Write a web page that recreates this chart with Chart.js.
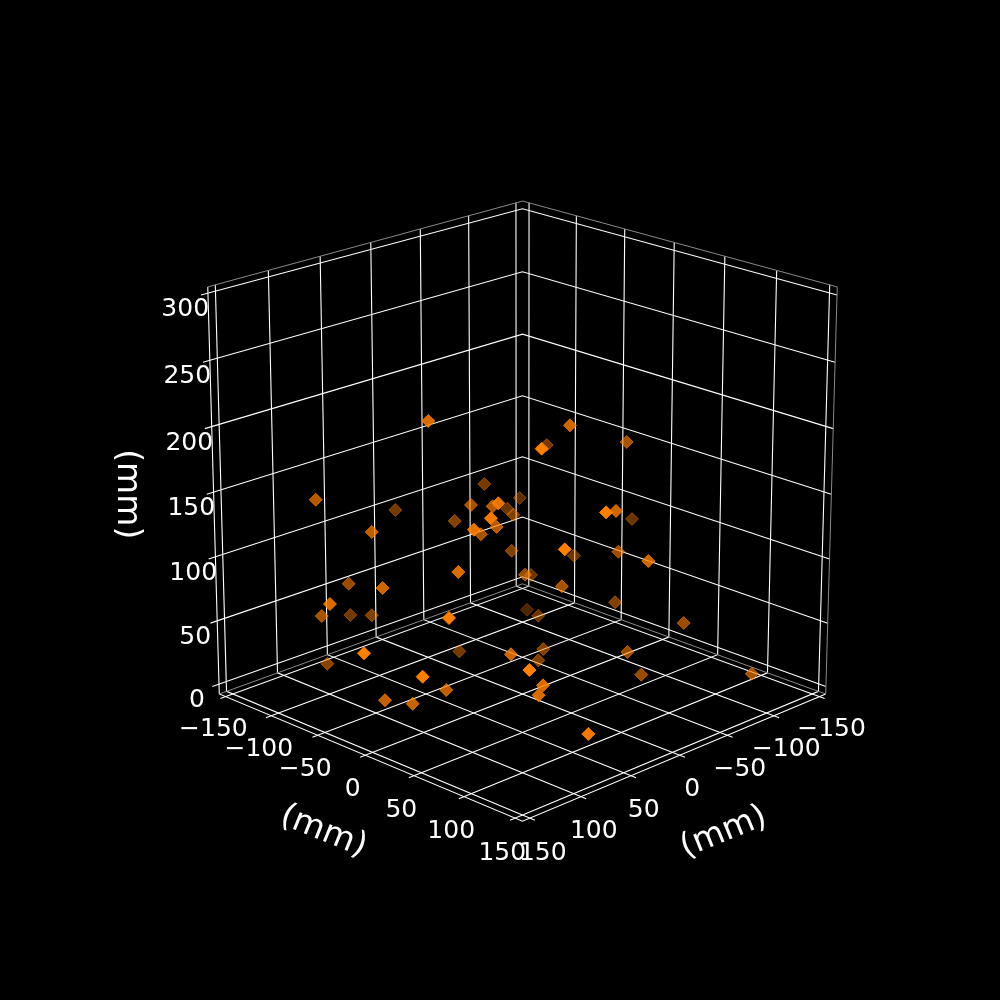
<!DOCTYPE html>
<html>
<head>
<meta charset="utf-8">
<title>3D scatter</title>
<script src="https://cdn.jsdelivr.net/npm/chart.js@4"></script>
<style>
    html, body { margin: 0; background: #000; }
    #box { width: 1000px; height: 1000px; }
</style>
</head>
<body>
<div id="box"><canvas id="myChart" width="1000" height="1000"></canvas></div>
<script>
const xTicks = [-150, -100, -50, 0, 50, 100, 150];
const yTicks = [-150, -100, -50, 0, 50, 100, 150];
const zTicks = [0, 50, 100, 150, 200, 250, 300];
const xLim = [-157, 157];
const yLim = [-157, 157];
const zLim = [-6, 306];
const unitLabel = "(mm)";

// point positions in mm
const xs = [90.9, 115.7, 21.8, 98.2, 78.5, 103.8, 141.0, 103.2, 46.1, 45.5,
    114.0, 76.5, -24.6, 26.2, 1.8, 26.2, 67.5, -43.2, -28.6, -58.5,
    82.2, 24.2, 79.6, 21.2, -27.7, -12.4, -55.6, -80.2, -59.5, 9.8,
    68.5, -57.0, -52.7, 37.0, -13.4, -108.4, 57.1, -78.1, -60.4, -29.9,
    -20.2, -81.7, -94.5, 156.2, 75.9, -11.1, 39.2, -44.2, -40.2, 74.4,
    127.3, 61.2, 92.8, 82.8, 34.1, 36.3, -65.5, -72.9, -118.5, 33.7];
const ys = [-2.0, -93.4, -110.7, -53.8, -100.7, -37.1, -52.1, -103.2, -135.0, -112.2,
    41.5, 12.3, -64.3, -26.2, -68.5, -4.0, 43.6, -59.1, -38.1, -61.5,
    51.2, -2.0, 31.5, -21.2, -39.0, -9.8, -46.6, -75.4, -42.8, 56.9,
    87.1, -31.9, 52.7, 118.6, 80.1, 6.2, 98.5, -24.1, 38.1, 96.5,
    20.2, 15.0, 72.3, -0.6, -128.4, -77.8, 27.5, -22.4, -23.6, 81.2,
    28.3, -16.8, -48.0, -29.4, 54.8, 52.6, 43.3, 50.6, 118.5, 99.7];
const zs = [227.4, 151.6, 114.7, 132.8, 74.7, 96.0, 89.9, 55.6, 31.3, 37.3,
    98.1, 114.3, 135.1, 141.8, 111.9, 146.5, 171.9, 112.2, 116.8, 116.1,
    166.6, 130.7, 152.2, 119.2, 88.5, 81.8, 59.6, 16.7, 26.9, 218.8,
    223.5, 165.5, 189.9, 176.8, 154.6, 104.1, 149.4, 75.0, 99.7, 116.6,
    78.8, 47.7, 43.8, 71.5, 2.7, 2.0, 44.9, 10.3, 2.1, 58.8,
    53.7, 10.4, 2.5, 2.3, 27.3, 19.6, 20.8, 2.8, 10.1, 3.1];

// view of the box, elevation 20, azimuth 45
const elev = 20 * Math.PI / 180;
const dist = 10;
const halfXY = 0.55;
const halfZ = 0.5453;
const viewScale = 3971;
const viewX = 522.5;
const viewY = 494.25;

function project(x, y, z) {
    const nx = (x - (xLim[0] + xLim[1]) / 2) / (xLim[1] - xLim[0]) * 2 * halfXY;
    const ny = (y - (yLim[0] + yLim[1]) / 2) / (yLim[1] - yLim[0]) * 2 * halfXY;
    const nz = (z - (zLim[0] + zLim[1]) / 2) / (zLim[1] - zLim[0]) * 2 * halfZ;
    const u = (ny - nx) * Math.SQRT1_2;
    const rad = (nx + ny) * Math.SQRT1_2;
    const yv = nz * Math.cos(elev) - rad * Math.sin(elev);
    const d = rad * Math.cos(elev) + nz * Math.sin(elev);
    return { x: viewX + viewScale * u / (dist - d), y: viewY - viewScale * yv / (dist - d) };
}

function polyline(points, color, width) {
    return {
        type: "line",
        data: points.map(p => project(p[0], p[1], p[2])),
        borderColor: color,
        borderWidth: width,
        pointRadius: 0,
        tension: 0,
        order: 5
    };
}

const datasets = [];
const [x0, x1] = xLim, [y0, y1] = yLim, [z0, z1] = zLim;
const edgeGray = "#8a8a8a";
datasets.push(polyline([[x1, y0, z1], [x0, y0, z1], [x0, y1, z1]], edgeGray, 1));
datasets.push(polyline([[x1, y0, z0], [x0, y0, z0], [x0, y1, z0]], edgeGray, 1));
datasets.push(polyline([[x0, y1, z0], [x0, y1, z1]], edgeGray, 1));
datasets.push(polyline([[x1, y0, z1], [x1, y0, z0], [x1, y1, z0], [x0, y1, z0]], "#ffffff", 1.1));
const tickOut = 5;
const zTickOut = 3.5;
xTicks.forEach(t => datasets.push(polyline([[t, y1 + tickOut, z0], [t, y0, z0], [t, y0, z1]], "#ffffff", 1.1)));
yTicks.forEach(t => datasets.push(polyline([[x1 + tickOut, t, z0], [x0, t, z0], [x0, t, z1]], "#ffffff", 1.1)));
zTicks.forEach(t => datasets.push(polyline([[x1 + zTickOut, y0 - zTickOut, t], [x0, y0, t], [x0, y1, t]], "#ffffff", 1.1)));

// far points first, nearer ones get more opaque like depth shading
const order = xs.map((_, i) => i).sort((a, b) => (xs[a] + ys[a]) - (xs[b] + ys[b]));
function depthColor(i) {
    const depth = (xs[i] + ys[i]) * Math.SQRT1_2;
    const alpha = Math.min(1, Math.max(0.3, 0.3 + (depth + 110) / 220 * 0.7));
    return `rgba(255, 127, 0, ${alpha.toFixed(3)})`;
}
const pointColors = order.map(depthColor);
datasets.push({
    data: order.map(i => project(xs[i], ys[i], zs[i])),
    pointStyle: "rectRot",
    pointRadius: 6.5,
    pointBorderWidth: 1,
    pointBackgroundColor: pointColors,
    pointBorderColor: pointColors,
    showLine: false,
    order: 1
});

function tickText(t) {
    return String(t).replace("-", "\u2212");
}

const labelsPlugin = {
    id: "labels3d",
    afterDatasetsDraw(chart) {
        const ctx = chart.ctx;
        const sx = chart.scales.x, sy = chart.scales.y;
        const put = (text, p, angle, font) => {
            ctx.save();
            ctx.translate(sx.getPixelForValue(p.x), sy.getPixelForValue(p.y));
            ctx.rotate(angle * Math.PI / 180);
            ctx.font = font;
            ctx.fillStyle = "#ffffff";
            ctx.textAlign = "center";
            ctx.textBaseline = "middle";
            ctx.fillText(text, 0, 0);
            ctx.restore();
        };
        const tickFont = '25px "DejaVu Sans"';
        const titleFont = '33px "DejaVu Sans"';
        xTicks.forEach(t => put(tickText(t), project(t, y1 + 12.5, z0 - 22.5), 0, tickFont));
        yTicks.forEach(t => put(tickText(t), project(x1 + 12.5, t, z0 - 22.5), 0, tickFont));
        zTicks.forEach(t => put(tickText(t), project(x1 + 11.6, y0 - 11.6, t - 11), 0, tickFont));
        put(unitLabel, project(x1 + 41, 0, z0 - 46), 22, titleFont);
        put(unitLabel, project(0, y1 + 43, z0 - 46), -22, titleFont);
        put(unitLabel, project(x1 + 44, y0 - 44, (z0 + z1) / 2), 90, titleFont);
    }
};

new Chart("myChart", {
    type: "scatter",
    data: { datasets },
    options: {
        responsive: false,
        animation: false,
        layout: { padding: 0, autoPadding: false },
        plugins: { legend: { display: false }, tooltip: { enabled: false } },
        scales: {
            x: { type: "linear", min: 0, max: 1000, display: false },
            y: { type: "linear", min: 0, max: 1000, reverse: true, display: false }
        }
    },
    plugins: [labelsPlugin]
});
</script>
</body>
</html>
